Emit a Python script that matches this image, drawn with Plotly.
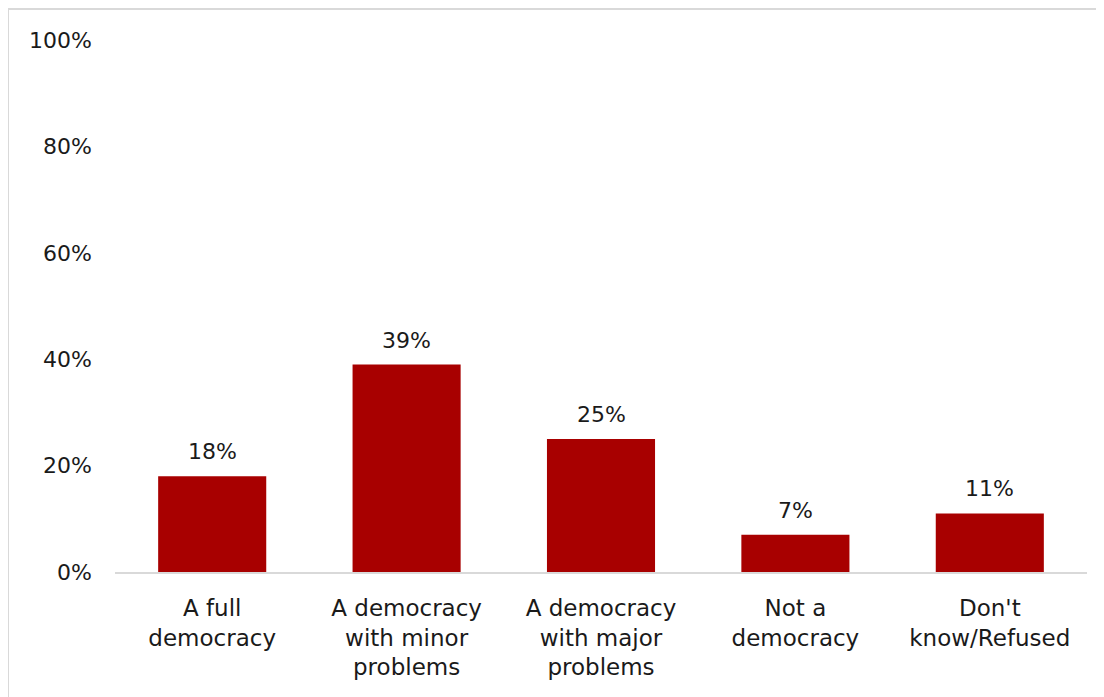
import plotly.graph_objects as go

categories = ["A full<br>democracy", "A democracy<br>with minor<br>problems",
              "A democracy<br>with major<br>problems", "Not a<br>democracy",
              "Don't<br>know/Refused"]
values = [18, 39, 25, 7, 11]
value_labels = ["18%", "39%", "25%", "7%", "11%"]
y_ticks = [0, 20, 40, 60, 80, 100]
y_tick_labels = ["0%", "20%", "40%", "60%", "80%", "100%"]

FONT = "DejaVu Sans"
TXT = "#1a1a1a"
W, H = 1104, 697
L, R, T, B = 107, 25, 32, 133
OFF = 8  # page body margin
pw, ph = W - L - R, H - T - B

xs = list(range(len(categories)))
fig = go.Figure(go.Bar(
    x=xs, y=values,
    marker=dict(color="#A80000", line=dict(width=0)),
    hoverinfo="skip",
))

for xi, v, lab in zip(xs, values, value_labels):
    fig.add_annotation(x=xi, y=v, text=lab, showarrow=False,
                       yanchor="bottom", yshift=10,
                       font=dict(family=FONT, size=22, color=TXT))

def px_x(p):
    return (p - OFF - L) / pw

def px_y(p):
    return (H - B - (p - OFF)) / ph

fig.add_shape(type="rect", xref="paper", yref="paper",
              x0=px_x(8), x1=px_x(1130), y0=px_y(720), y1=px_y(9),
              line=dict(color="#d9d9d9", width=2), layer="below")

fig.update_layout(
    width=W, height=H, margin=dict(l=L, r=R, t=T, b=B),
    paper_bgcolor="white", plot_bgcolor="white",
    bargap=0.444, showlegend=False,
    font=dict(family=FONT, size=22, color=TXT),
)
fig.update_xaxes(
    tickvals=xs, ticktext=categories,
    range=[-0.5, 4.5], showgrid=False, zeroline=False,
    showline=True, linecolor="#d9d9d9", linewidth=2,
    ticks="", ticklabelstandoff=14,
    tickfont=dict(family=FONT, size=23, color=TXT),
)
fig.update_yaxes(
    tickvals=y_ticks, ticktext=y_tick_labels, range=[0, 100],
    showgrid=False, zeroline=False, showline=False, ticks="",
    ticklabelstandoff=22,
    tickfont=dict(family=FONT, size=22, color=TXT),
)

fig.write_html("out.html")
